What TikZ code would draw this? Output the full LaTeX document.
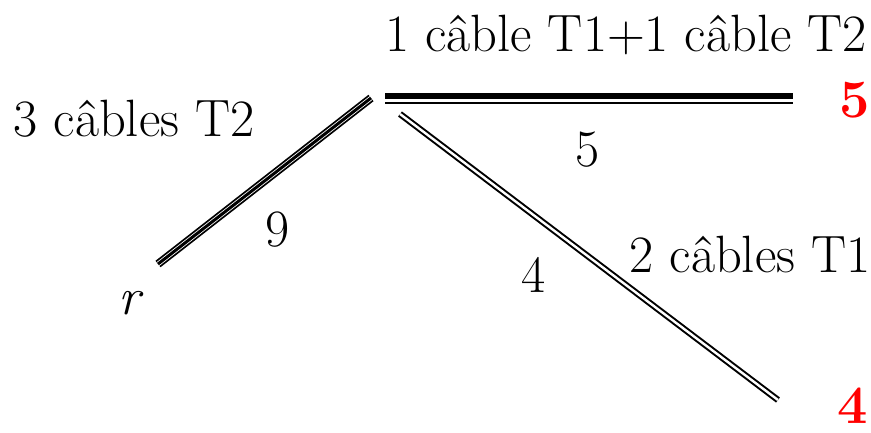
\documentclass[tikz,border=0pt]{standalone}
\usepackage{fontspec}
\usepackage{tikz}

\begin{document}
\begin{tikzpicture}[
  x=1pt, y=-1pt,
  lbl/.style={inner sep=0pt, anchor=base, font=\fontsize{52.5}{60}\selectfont},
  load/.style={lbl, text=red, font=\fontsize{54}{60}\selectfont\bfseries},
  trio/.style={line width=1.8pt, double=white, double distance=4.6pt},
  mid/.style={line width=3pt},
  pair/.style={line width=2pt, double=white, double distance=2.4pt}
]
\useasboundingbox (0,0) rectangle (871,432);

% Cable ends
\coordinate (r-end) at (158,264);
\coordinate (hub-left) at (371,98);
\coordinate (hub-top) at (385,96);
\coordinate (top-end) at (793,96);
\coordinate (hub-right) at (400,114);
\coordinate (right-end) at (778,400);

% Left branch: three T2 cables
\draw[trio] (r-end) -- (hub-left);
\draw[mid] (r-end) -- (hub-left);

% Top branch: one T1 and one T2
\draw[line width=6.5pt] (hub-top) -- (top-end);
\draw[line width=2.2pt] ([yshift=-7pt]hub-top) -- ([yshift=-7pt]top-end);

% Right branch: two T1 cables
\draw[pair] (hub-right) -- (right-end);

% Labels
\node[lbl] (lab-top) at (626,51) {1 câble T1+1 câble T2};
\node[lbl] (lab-left) at (134,136) {3 câbles T2};
\node[lbl] (lab-right) at (750,272) {2 câbles T1};
\node[lbl] (len-top) at (588,166) {5};
\node[lbl] (len-left) at (278,246) {9};
\node[lbl] (len-right) at (534,292) {4};
\node[lbl] (root) at (129,314) {\itshape r};

% Loads
\node[load] (load-top) at (855,117) {5};
\node[load] (load-right) at (853,423) {4};
\end{tikzpicture}
\end{document}
